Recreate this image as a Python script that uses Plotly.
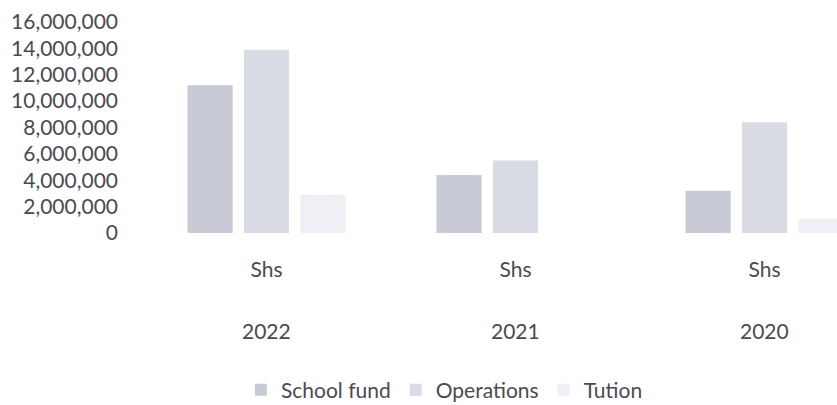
import plotly.graph_objects as go

years = ["2022", "2021", "2020"]
unit_labels = ["Shs", "Shs", "Shs"]
school_fund = [11200000, 4400000, 3200000]
operations = [13900000, 5500000, 8400000]
tution = [2900000, 0, 1100000]
y_ticks = [0, 2000000, 4000000, 6000000, 8000000, 10000000, 12000000, 14000000, 16000000]

FONT = "Lato"
TXT = "#4a4a52"
FS = 21

fig = go.Figure()
fig.add_trace(go.Bar(name="School fund", x=years, y=school_fund, marker_color="#c8cbd6", marker_line_width=0))
fig.add_trace(go.Bar(name="Operations", x=years, y=operations, marker_color="#d9dbe5", marker_line_width=0))
fig.add_trace(go.Bar(name="Tution", x=years, y=tution, marker_color="#eef0f6", marker_line_width=0))

for i, yr in enumerate(years):
    fig.add_annotation(x=i, y=-0.464, xref="x", yref="paper", yanchor="middle", text=yr,
                       showarrow=False, font=dict(family=FONT, size=FS, color=TXT))

fig.update_layout(
    width=837, height=405,
    paper_bgcolor="white", plot_bgcolor="white",
    margin=dict(l=141, r=0, t=22, b=172, autoexpand=False),
    barmode="group", bargap=0.32, bargroupgap=0.2,
    font=dict(family=FONT, size=FS, color=TXT),
    showlegend=True,
    legend=dict(orientation="h", x=0.436, xanchor="center", y=-0.745, yanchor="middle",
                font=dict(family=FONT, size=FS, color=TXT),
                traceorder="normal"),
    xaxis=dict(type="category", range=[-0.504, 2.291], tickvals=years, ticktext=unit_labels,
               showgrid=False, showline=False, zeroline=False, ticks="",
               tickfont=dict(family=FONT, size=FS, color=TXT), ticklabelstandoff=22),
    yaxis=dict(range=[0, 16000000], tickvals=y_ticks, tickformat=",d",
               showgrid=False, showline=False, zeroline=False, ticks="",
               tickfont=dict(family=FONT, size=FS, color=TXT), ticklabelstandoff=22),
)

fig.write_html("out.html", config={"displayModeBar": False},
               post_script="document.body.style.margin='0';")
